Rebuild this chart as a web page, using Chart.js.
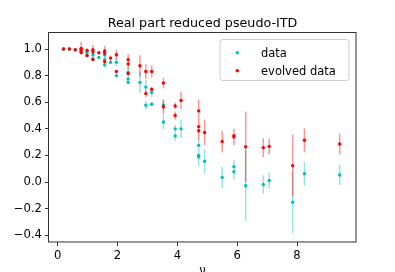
<!DOCTYPE html>
<html>
<head>
<meta charset="utf-8">
<script src="https://cdn.jsdelivr.net/npm/chart.js@4.4.1/dist/chart.umd.min.js"></script>
<style>
  html, body { margin: 0; padding: 0; background: #fff; }
  canvas { display: block; }
</style>
</head>
<body>
<canvas id="grafico" width="395" height="272"></canvas>
<script>
// ─── DADOS ────────────────────────────────────────────────
const titulo = 'Real part reduced pseudo-ITD';
const xLabel = 'ν';
const xTicks = [0, 2, 4, 6, 8];
const yTicks = [-0.4, -0.2, 0, 0.2, 0.4, 0.6, 0.8, 1.0];
const nomes  = ['data', 'evolved data'];

// data (ciano)
const dataNu  = [0.196, 0.393, 0.589, 0.785, 0.785, 0.982, 0.982, 1.178, 1.178, 1.374,
                 1.571, 1.571, 1.571, 1.767, 1.963, 1.963, 2.356, 2.356, 2.356, 2.749,
                 2.945, 2.945, 3.142, 3.142, 3.534, 3.534, 3.927, 3.927, 4.123, 4.712,
                 4.712, 4.712, 4.909, 5.498, 5.890, 5.890, 6.283, 6.872, 7.069, 7.854,
                 8.247, 9.425];
const dataVal = [1.0, 1.0, 0.995, 1.0, 0.975, 0.975, 0.95, 0.957, 0.925, 0.937,
                 0.955, 0.92, 0.88, 0.9, 0.9, 0.8, 0.824, 0.774, 0.749, 0.749,
                 0.714, 0.578, 0.673, 0.585, 0.578, 0.452, 0.4, 0.347, 0.4, 0.276,
                 0.2, 0.188, 0.156, 0.035, 0.116, 0.078, -0.028, -0.018, 0.012, -0.151,
                 0.063, 0.053];
const dataErr = [0.003, 0.004, 0.006, 0.01, 0.015, 0.015, 0.01, 0.02, 0.01, 0.01,
                 0.025, 0.02, 0.012, 0.015, 0.03, 0.01, 0.035, 0.03, 0.012, 0.08,
                 0.055, 0.03, 0.035, 0.015, 0.04, 0.055, 0.03, 0.035, 0.07, 0.05,
                 0.06, 0.07, 0.09, 0.08, 0.05, 0.06, 0.265, 0.07, 0.06, 0.23,
                 0.09, 0.077];

// evolved data (vermelho)
const evoNu  = [0.196, 0.393, 0.589, 0.785, 0.785, 0.785, 0.982, 0.982, 1.178, 1.178,
                1.178, 1.374, 1.571, 1.571, 1.571, 1.767, 1.963, 1.963, 2.356, 2.356,
                2.356, 2.749, 2.945, 2.945, 3.142, 3.142, 3.534, 3.534, 3.927, 3.927,
                4.123, 4.712, 4.712, 4.712, 4.909, 5.498, 5.890, 5.890, 6.283, 6.872,
                7.069, 7.854, 8.247, 9.425];
const evoVal = [1.0, 1.0, 0.995, 1.005, 0.99, 0.975, 0.99, 0.952, 0.995, 0.98,
                0.922, 0.972, 0.985, 0.97, 0.905, 0.932, 0.957, 0.831, 0.92, 0.887,
                0.816, 0.874, 0.831, 0.665, 0.831, 0.698, 0.745, 0.565, 0.572, 0.5,
                0.614, 0.535, 0.417, 0.386, 0.373, 0.305, 0.348, 0.338, 0.266, 0.259,
                0.268, 0.123, 0.314, 0.286];
const evoErr = [0.003, 0.004, 0.006, 0.05, 0.02, 0.015, 0.015, 0.012, 0.035, 0.02,
                0.012, 0.01, 0.04, 0.025, 0.015, 0.02, 0.04, 0.012, 0.04, 0.04,
                0.015, 0.08, 0.055, 0.025, 0.045, 0.015, 0.04, 0.055, 0.025, 0.03,
                0.065, 0.085, 0.06, 0.07, 0.095, 0.08, 0.05, 0.06, 0.265, 0.07,
                0.06, 0.232, 0.09, 0.077];

// ─── CORES / FONTES ───────────────────────────────────────
const CIANO = '#00bfbf';
const VERM  = '#ff0000';
const FONTE = 'DejaVu Sans';

// ─── UTILS ────────────────────────────────────────────────
function pontos(nu, val) {
  return nu.map((x, i) => ({ x, y: val[i] }));
}

// barra de erro = segmento vertical, separado por null
function barras(nu, val, err) {
  const out = [];
  nu.forEach((x, i) => {
    out.push({ x, y: val[i] - err[i] });
    out.push({ x, y: val[i] + err[i] });
    out.push({ x, y: null });
  });
  return out;
}

function fmtY(v) {
  return v.toFixed(1).replace('-', '\u2212');
}

// ─── MOLDURA, TITULO E LEGENDA ────────────────────────────
const moldura = {
  id: 'moldura',
  afterDraw(chart) {
    const { ctx, chartArea: a } = chart;
    ctx.save();

    // spines
    ctx.strokeStyle = '#333';
    ctx.lineWidth = 1;
    ctx.strokeRect(Math.round(a.left) - 0.5, Math.round(a.top) + 0.5,
                   Math.round(a.right - a.left) + 0.5, Math.round(a.bottom - a.top) - 0.5);

    // titulo
    ctx.fillStyle = '#000';
    ctx.textAlign = 'center';
    ctx.textBaseline = 'alphabetic';
    ctx.font = `12.7px "${FONTE}"`;
    ctx.fillText(titulo, (a.left + a.right) / 2, 27.3);

    // rotulo do eixo x (cortado embaixo, como no original)
    ctx.font = `11.6px "${FONTE}"`;
    ctx.fillText(xLabel, (a.left + a.right) / 2, 273.5);

    // legenda
    const bx = 220, by = 39.5, bw = 129, bh = 41;
    ctx.beginPath();
    ctx.roundRect(bx, by, bw, bh, 3);
    ctx.fillStyle = 'rgba(255,255,255,0.8)';
    ctx.fill();
    ctx.strokeStyle = '#cccccc';
    ctx.stroke();

    const cores = [CIANO, VERM];
    nomes.forEach((nome, i) => {
      const cy = 52.7 + i * 18;
      ctx.beginPath();
      ctx.arc(237.3, cy, 1.7, 0, Math.PI * 2);
      ctx.fillStyle = cores[i];
      ctx.fill();
      ctx.fillStyle = '#000';
      ctx.textAlign = 'left';
      ctx.font = `11.5px "${FONTE}"`;
      ctx.fillText(nome, 261, cy + 3.9);
    });

    ctx.restore();
  }
};

// ─── CHART ────────────────────────────────────────────────
const tickFont = { family: FONTE, size: 11.6 };

new Chart(document.getElementById('grafico'), {
  type: 'scatter',
  data: {
    datasets: [
      {
        label: nomes[1],
        data: pontos(evoNu, evoVal),
        backgroundColor: VERM,
        pointRadius: 1.7,
        pointBorderWidth: 0,
        order: 0
      },
      {
        label: '_err_evo',
        data: barras(evoNu, evoVal, evoErr),
        showLine: true,
        spanGaps: false,
        borderColor: 'rgba(255,0,0,0.42)',
        borderWidth: 1.5,
        pointRadius: 0,
        order: 1
      },
      {
        label: nomes[0],
        data: pontos(dataNu, dataVal),
        backgroundColor: CIANO,
        pointRadius: 1.7,
        pointBorderWidth: 0,
        order: 2
      },
      {
        label: '_err_data',
        data: barras(dataNu, dataVal, dataErr),
        showLine: true,
        spanGaps: false,
        borderColor: 'rgba(0,191,191,0.42)',
        borderWidth: 1.5,
        pointRadius: 0,
        order: 3
      }
    ]
  },
  options: {
    responsive: false,
    animation: false,
    devicePixelRatio: 1,
    layout: { padding: { left: 0, top: 32, right: 39, bottom: 0 } },
    plugins: {
      legend: { display: false },
      tooltip: { enabled: false },
      title: { display: false }
    },
    scales: {
      x: {
        type: 'linear',
        min: -0.29,
        max: 9.97,
        afterBuildTicks: s => { s.ticks = xTicks.map(v => ({ value: v })); },
        afterFit: s => { s.height = 30; },
        ticks: { font: tickFont, color: '#000', padding: 3, maxRotation: 0, callback: v => String(v) },
        grid: { drawOnChartArea: false, drawTicks: true, tickLength: 4, color: '#333' },
        border: { display: false }
      },
      y: {
        type: 'linear',
        min: -0.4505,
        max: 1.128,
        afterBuildTicks: s => { s.ticks = yTicks.map(v => ({ value: v })); },
        afterFit: s => { s.width = 49; },
        ticks: { font: tickFont, color: '#000', padding: 3, callback: v => fmtY(v) },
        grid: { drawOnChartArea: false, drawTicks: true, tickLength: 4, color: '#333' },
        border: { display: false }
      }
    }
  },
  plugins: [moldura]
});
</script>
</body>
</html>
